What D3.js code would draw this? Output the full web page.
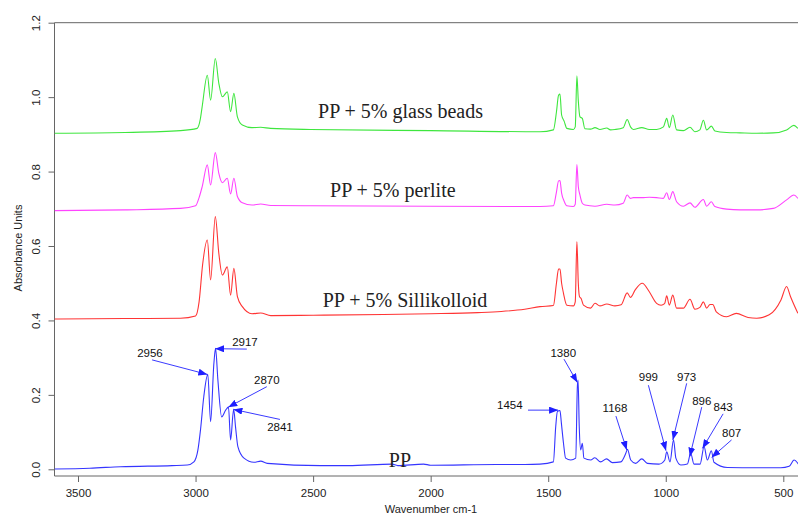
<!DOCTYPE html>
<html>
<head>
<meta charset="utf-8">
<script src="https://cdn.jsdelivr.net/npm/d3@7"></script>
<style>
  body { margin: 0; background: #fff; }
  svg { display: block; }
  .axis text { font-family: "Liberation Sans", Arial, sans-serif; font-size: 11.5px; fill: #222; }
  .axis line, .axis path { stroke: #666; }
</style>
</head>
<body>
<div id="chart"></div>
<script>
// spectra: [wavenumber cm-1, absorbance]
const ppSpectrum = [
  [3600,0.001],[3450,0.003],[3319,0.007],[3100,0.010],[3035,0.0115],[3007,0.020],[2990,0.052],
  [2979,0.106],[2965,0.195],[2948,0.255],[2936,0.128],[2922,0.285],[2915,0.325],[2905,0.240],
  [2889,0.141],[2872,0.159],[2860,0.167],[2851,0.079],[2838,0.161],[2830,0.114],[2820,0.061],
  [2794,0.030],[2752,0.019],[2723,0.022],[2695,0.016],[2468,0.010],[2350,0.010],[2165,0.014],
  [2140,0.010],[2030,0.014],[2000,0.011],[1720,0.013],[1600,0.013],[1535,0.014],[1478,0.020],
  [1468,0.115],[1461,0.155],[1450,0.158],[1444,0.124],[1435,0.070],[1426,0.030],[1404,0.025],
  [1383,0.030],[1376,0.222],[1373,0.240],[1368,0.115],[1362,0.052],[1355,0.070],[1348,0.030],
  [1319,0.025],[1302,0.031],[1277,0.020],[1252,0.028],[1227,0.018],[1191,0.020],[1170,0.043],
  [1163,0.054],[1149,0.025],[1128,0.016],[1102,0.028],[1078,0.016],[1029,0.014],[1004,0.025],
  [996,0.047],[982,0.020],[967,0.079],[957,0.030],[936,0.0115],[908,0.014],[894,0.043],
  [880,0.014],[854,0.014],[837,0.061],[823,0.025],[806,0.050],[795,0.019],[738,0.005],
  [610,0.004],[511,0.004],[475,0.008],[454,0.025],[434,0.012]
];
const silliSpectrum = [
  [3600,0.404],[3300,0.405],[3064,0.406],[3000,0.412],[2985,0.450],[2970,0.550],[2950,0.616],
  [2936,0.509],[2916,0.679],[2901,0.580],[2886,0.522],[2865,0.544],[2851,0.468],[2837,0.540],
  [2822,0.464],[2801,0.437],[2760,0.418],[2723,0.420],[2680,0.413],[2500,0.414],[2200,0.416],
  [2000,0.418],[1800,0.421],[1700,0.424],[1600,0.430],[1535,0.437],[1478,0.440],[1465,0.500],
  [1456,0.538],[1450,0.538],[1443,0.500],[1435,0.473],[1421,0.441],[1393,0.439],[1385,0.450],
  [1378,0.612],[1372,0.500],[1367,0.464],[1360,0.459],[1350,0.441],[1320,0.433],[1301,0.446],
  [1280,0.439],[1251,0.444],[1216,0.439],[1190,0.442],[1164,0.474],[1150,0.462],[1130,0.482],
  [1100,0.500],[1070,0.477],[1039,0.446],[1020,0.441],[1005,0.445],[996,0.466],[985,0.441],
  [970,0.468],[954,0.433],[925,0.433],[897,0.457],[876,0.430],[855,0.435],[840,0.450],
  [826,0.433],[812,0.443],[800,0.443],[785,0.423],[741,0.410],[700,0.419],[650,0.408],
  [613,0.406],[560,0.415],[510,0.455],[486,0.491],[470,0.465],[438,0.419]
];
const perliteSpectrum = [
  [3600,0.695],[3300,0.697],[3064,0.701],[3000,0.708],[2985,0.730],[2972,0.759],[2950,0.818],
  [2936,0.764],[2916,0.851],[2901,0.795],[2886,0.770],[2865,0.782],[2851,0.740],[2837,0.782],
  [2822,0.733],[2801,0.716],[2760,0.710],[2723,0.713],[2680,0.709],[2511,0.708],[2000,0.707],
  [1535,0.706],[1478,0.708],[1465,0.745],[1456,0.775],[1450,0.776],[1443,0.742],[1432,0.720],
  [1421,0.708],[1393,0.706],[1385,0.712],[1378,0.819],[1372,0.760],[1365,0.737],[1355,0.715],
  [1344,0.710],[1301,0.707],[1251,0.712],[1216,0.710],[1181,0.715],[1164,0.737],[1150,0.728],
  [1138,0.730],[1102,0.730],[1070,0.731],[1039,0.730],[1010,0.728],[996,0.743],[985,0.725],
  [970,0.746],[954,0.719],[925,0.707],[897,0.716],[876,0.704],[840,0.725],[826,0.707],
  [806,0.719],[791,0.706],[741,0.699],[684,0.697],[613,0.697],[543,0.701],[486,0.724],
  [455,0.737],[438,0.728]
];
const glassSpectrum = [
  [3600,0.903],[3300,0.905],[3064,0.910],[2993,0.916],[2980,0.940],[2972,0.974],[2950,1.059],
  [2936,0.992],[2916,1.104],[2901,1.037],[2886,1.001],[2865,1.014],[2851,0.961],[2837,1.010],
  [2822,0.947],[2801,0.925],[2760,0.918],[2723,0.919],[2681,0.916],[2511,0.913],[2000,0.910],
  [1535,0.907],[1478,0.912],[1465,0.960],[1456,1.005],[1450,1.008],[1443,0.952],[1432,0.935],
  [1421,0.916],[1393,0.913],[1385,0.920],[1378,1.057],[1372,0.990],[1365,0.947],[1355,0.943],
  [1344,0.915],[1320,0.914],[1301,0.918],[1280,0.913],[1251,0.917],[1235,0.912],[1216,0.913],
  [1181,0.918],[1164,0.940],[1150,0.920],[1138,0.913],[1102,0.918],[1070,0.913],[1039,0.913],
  [1010,0.920],[996,0.943],[985,0.918],[970,0.952],[954,0.912],[925,0.910],[897,0.919],
  [876,0.907],[855,0.912],[840,0.938],[826,0.912],[806,0.922],[791,0.909],[741,0.905],
  [684,0.904],[613,0.903],[543,0.904],[486,0.912],[455,0.924],[438,0.916]
];

const seriesNames = ["PP", "PP + 5% Sillikolloid", "PP + 5% perlite", "PP + 5% glass beads"];
const seriesColors = ["#3535ff", "#ff3434", "#ff44ff", "#3ee63e"];
const seriesData = [ppSpectrum, silliSpectrum, perliteSpectrum, glassSpectrum];
// where each name sits: [wavenumber, absorbance] of the text start/baseline
const seriesLabelAt = [[2178, 0.006], [2459, 0.437], [2428, 0.732], [2479, 0.943]];

const xTicks = [3500, 3000, 2500, 2000, 1500, 1000, 500];
const yTicks = [0, 0.2, 0.4, 0.6, 0.8, 1.0, 1.2];

// peak callouts on PP: text, text centre, arrow tail, arrow tip (wavenumber, absorbance)
const peakLabels = [
  { text: "2956", at: [3194, 0.312], tail: [3185, 0.294], tip: [2950, 0.255] },
  { text: "2917", at: [2790, 0.341], tail: [2782, 0.323], tip: [2917, 0.324] },
  { text: "2870", at: [2697, 0.240], tail: [2697, 0.222], tip: [2861, 0.167] },
  { text: "2841", at: [2641, 0.114], tail: [2641, 0.134], tip: [2839, 0.161] },
  { text: "1454", at: [1663, 0.172], tail: [1586, 0.159], tip: [1458, 0.159] },
  { text: "1380", at: [1436, 0.313], tail: [1433, 0.296], tip: [1376, 0.233] },
  { text: "1168", at: [1216, 0.164], tail: [1212, 0.143], tip: [1166, 0.052] },
  { text: "999",  at: [1074, 0.247], tail: [1074, 0.226], tip: [999, 0.050] },
  { text: "973",  at: [911, 0.247],  tail: [911, 0.231],  tip: [970, 0.079] },
  { text: "896",  at: [847, 0.184],  tail: [847, 0.167],  tip: [898, 0.034] },
  { text: "843",  at: [756, 0.168],  tail: [756, 0.149],  tip: [844, 0.056] },
  { text: "807",  at: [720, 0.098],  tail: [720, 0.079],  tip: [805, 0.032] }
];

const width = 798, height = 515;
const plotLeft = 54.5, plotTop = 22.7, plotBottom = 476;

const x = d3.scaleLinear().domain([3600, 400]).range([plotLeft, plotLeft + 3200 * 0.2351]);
const y = d3.scaleLinear().domain([0, 1.2]).range([469.3, plotTop]);

const svg = d3.select("#chart").append("svg")
  .attr("width", width)
  .attr("height", height);

const defs = svg.append("defs");
defs.append("clipPath").attr("id", "plot-clip")
  .append("rect")
  .attr("x", plotLeft).attr("y", plotTop)
  .attr("width", width - plotLeft).attr("height", plotBottom - plotTop);

defs.append("marker")
  .attr("id", "arrow")
  .attr("markerUnits", "userSpaceOnUse")
  .attr("viewBox", "0 0 9 7")
  .attr("refX", 9).attr("refY", 3.5)
  .attr("markerWidth", 9).attr("markerHeight", 7)
  .attr("orient", "auto")
  .append("path")
  .attr("d", "M0,0 L9,3.5 L0,7 Z")
  .attr("fill", "#1f1fff");

// x axis
const xAxis = svg.append("g")
  .attr("class", "axis")
  .attr("transform", `translate(0,${plotBottom})`)
  .call(d3.axisBottom(x).tickValues(xTicks).tickSize(6).tickPadding(5).tickFormat(d3.format("d")));
xAxis.select(".domain").remove();
xAxis.selectAll("text").attr("dy", "0.9em");

// y axis, labels rotated like R's default
const yAxis = svg.append("g")
  .attr("class", "axis")
  .attr("transform", `translate(${plotLeft},0)`)
  .call(d3.axisLeft(y).tickValues(yTicks).tickSize(6).tickFormat(d3.format(".1f")));
yAxis.select(".domain").remove();
yAxis.selectAll(".tick text")
  .attr("x", 0).attr("y", -18.5).attr("dy", "0.35em")
  .attr("transform", "rotate(-90)")
  .attr("text-anchor", "middle");

// frame: left, bottom, top
svg.append("path")
  .attr("d", `M${width},${plotTop}H${plotLeft}V${plotBottom}H${width}`)
  .attr("fill", "none")
  .attr("stroke", "#666")
  .attr("stroke-width", 1);

svg.append("text")
  .attr("transform", `translate(18.5,248) rotate(-90)`)
  .attr("text-anchor", "middle")
  .attr("dy", "0.35em")
  .style("font-family", "'Liberation Sans', Arial, sans-serif")
  .style("font-size", "11px")
  .attr("fill", "#222")
  .text("Absorbance Units");

svg.append("text")
  .attr("x", 431).attr("y", 509)
  .attr("text-anchor", "middle")
  .attr("dy", "0.35em")
  .style("font-family", "'Liberation Sans', Arial, sans-serif")
  .style("font-size", "11px")
  .attr("fill", "#222")
  .text("Wavenumber cm-1");

// spectra
const line = d3.line()
  .x(d => x(d[0]))
  .y(d => y(d[1]))
  .curve(d3.curveMonotoneX);
svg.append("g").attr("clip-path", "url(#plot-clip)")
  .selectAll("path")
  .data(seriesData)
  .join("path")
  .attr("d", line)
  .attr("fill", "none")
  .attr("stroke", (d, i) => seriesColors[i])
  .attr("stroke-width", 1.1)
  .attr("stroke-linejoin", "round");

// series names
svg.selectAll("text.series-name")
  .data(seriesNames)
  .join("text")
  .attr("class", "series-name")
  .attr("x", (d, i) => x(seriesLabelAt[i][0]))
  .attr("y", (d, i) => y(seriesLabelAt[i][1]))
  .style("font-family", "'Liberation Serif', 'Times New Roman', serif")
  .style("font-size", "20px")
  .attr("fill", "#222")
  .text(d => d);

// peak arrows on PP
const callouts = svg.append("g");
callouts.selectAll("line")
  .data(peakLabels)
  .join("line")
  .attr("x1", d => x(d.tail[0])).attr("y1", d => y(d.tail[1]))
  .attr("x2", d => x(d.tip[0])).attr("y2", d => y(d.tip[1]))
  .attr("stroke", "#3a3aff")
  .attr("stroke-width", 1)
  .attr("marker-end", "url(#arrow)");

callouts.selectAll("text")
  .data(peakLabels)
  .join("text")
  .attr("x", d => x(d.at[0]))
  .attr("y", d => y(d.at[1]))
  .attr("text-anchor", "middle")
  .attr("dy", "0.35em")
  .style("font-family", "'Liberation Sans', Arial, sans-serif")
  .style("font-size", "11.5px")
  .attr("fill", "#111")
  .text(d => d.text);
</script>
</body>
</html>
